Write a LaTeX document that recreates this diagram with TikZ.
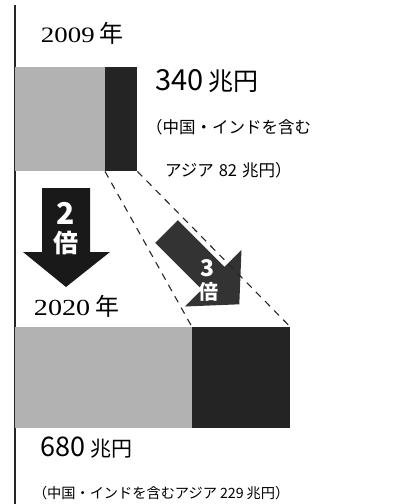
\documentclass[tikz,border=0pt]{standalone}
\usepackage{fontspec}
\setmainfont{Liberation Serif}
\newfontfamily\jp{Noto Sans CJK JP}
\newfontfamily\serifw[FakeStretch=1.22]{Liberation Serif}
\newcommand{\fs}[1]{\fontsize{#1}{#1}\selectfont}
\begin{document}
\begin{tikzpicture}[x=1pt,y=-1pt,
  txt/.style={anchor=west,inner sep=0pt,outer sep=0pt},
  wtxt/.style={inner sep=0pt,outer sep=0pt,text=white,font=\jp\bfseries},
  lightbox/.style={fill=black!30,draw=none},
  darkbox/.style={fill=black!86,draw=none},
  guide/.style={dashed,dash pattern=on 7pt off 6pt,line width=1.1pt,black!85},
  axis/.style={line width=1.4pt,black!85}]
\useasboundingbox (0,0) rectangle (398,504);
\fill[white] (0,0) rectangle (398,504);

% axis line
\coordinate (axtop) at (15,5);
\coordinate (axbot) at (15,504);
\draw[axis] (axtop) -- (axbot);

% 2009 bars
\node[lightbox,minimum width=90pt,minimum height=104pt,anchor=north west,inner sep=0pt] (g1) at (15,67) {};
\node[darkbox,minimum width=32pt,minimum height=104pt,anchor=north west,inner sep=0pt] (d1) at (105,67) {};

% 2020 bars
\node[lightbox,minimum width=177pt,minimum height=101pt,anchor=north west,inner sep=0pt] (g2) at (15,327) {};
\node[darkbox,minimum width=98pt,minimum height=101pt,anchor=north west,inner sep=0pt] (d2) at (192,327) {};

% 2x arrow
\fill[black!90] (42,188) -- (90,188) -- (90,252) -- (110,252) -- (66,287) -- (23,252) -- (42,252) -- cycle;
\node[wtxt,font=\jp\bfseries\fs{30}] (two) at (66,213) {2};
\node[wtxt,font=\jp\bfseries\fs{25}] (twob) at (66,243) {倍};

% 3x arrow
\fill[black!80] (155.2,242.8) -- (177.8,220.2) -- (224.5,266.9) -- (241.5,249.9) -- (239.3,304.3) -- (184.9,306.5) -- (201.9,289.5) -- cycle;
\node[wtxt,font=\jp\bfseries\fs{23}] (three) at (208,268) {3};
\node[wtxt,font=\jp\bfseries\fs{20}] (threeb) at (208,292) {倍};

% dashed guides
\draw[guide] (d1.south west) -- (d2.north west);
\draw[guide] (d1.south east) -- (d2.north east);

% texts
\node[txt] (y1) at (41,33) {\serifw\fs{22}2009\hspace{5pt}{\jp\fs{24}年}};
\node[txt] (v1) at (155,81) {\jp\fs{29}340\hspace{5pt}\fs{25}兆円};
\node[txt] (n1) at (146,127) {\jp\fs{16.5}（中国・インドを含む};
\node[txt] (n2) at (165,170) {\jp\fs{16.5}アジア\hspace{5pt}82\hspace{5pt}兆円）};
\node[txt] (y2) at (34,306) {\serifw\fs{23}2020\hspace{5pt}{\jp\fs{24}年}};
\node[txt] (v2) at (41,448) {\jp\fs{27}680\hspace{5pt}\fs{21}兆円};
\node[txt] (n3) at (33,493) {\jp\fs{14.2}（中国・インドを含むアジア\hspace{3pt}229\hspace{3pt}兆円）};
\end{tikzpicture}
\end{document}
